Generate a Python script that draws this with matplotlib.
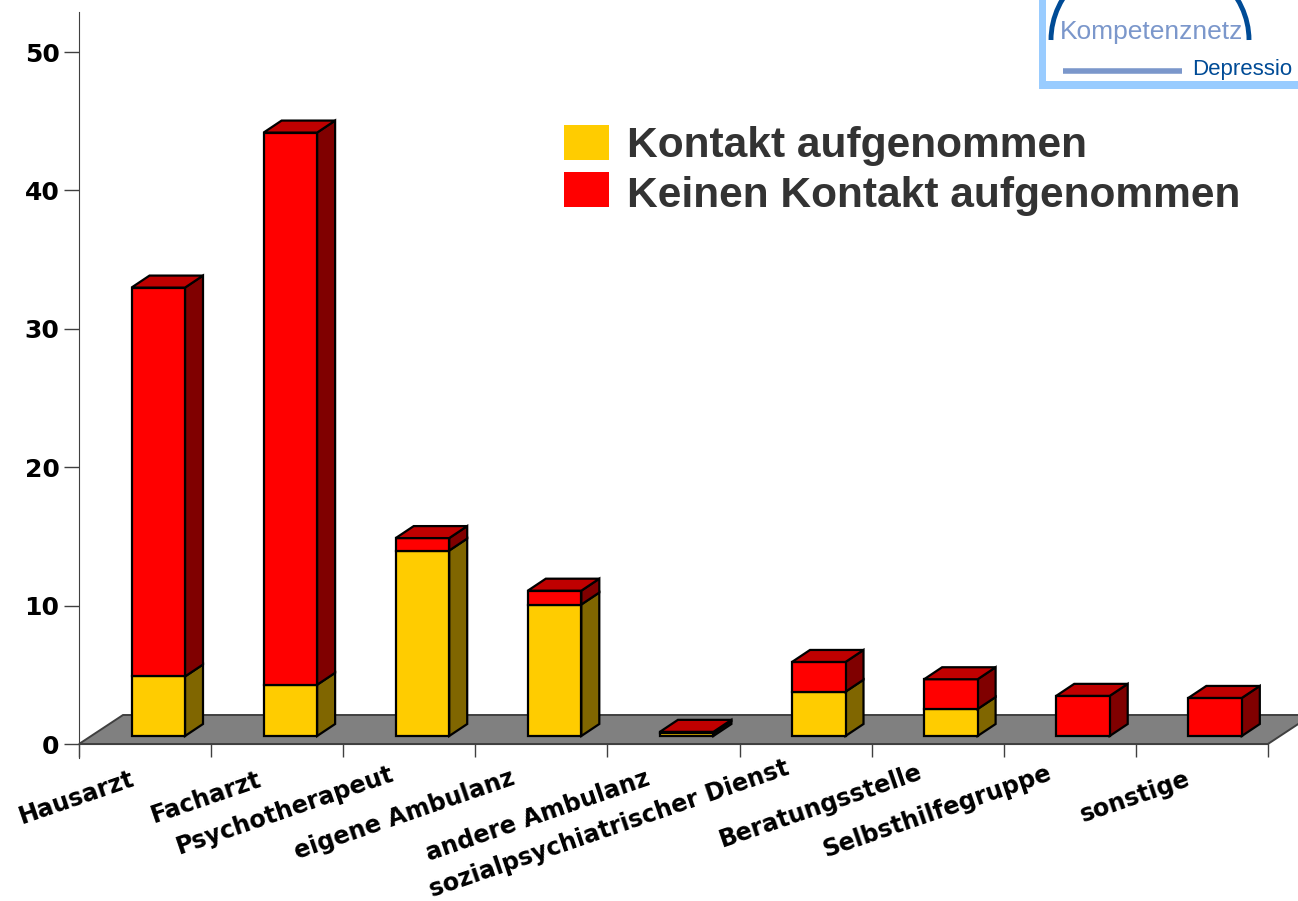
import matplotlib
matplotlib.use('Agg')
import matplotlib.pyplot as plt
from matplotlib.patches import Polygon, Patch, Rectangle, Arc

# Daten
kategorien = ['Hausarzt', 'Facharzt', 'Psychotherapeut', 'eigene Ambulanz', 'andere Ambulanz',
              'sozialpsychiatrischer Dienst', 'Beratungsstelle', 'Selbsthilfegruppe', 'sonstige']
kontakt = [4.3, 3.7, 13.4, 9.5, 0.2, 3.2, 1.95, 0.0, 0.0]
kein_kontakt = [28.1, 39.9, 0.9, 1.0, 0.1, 2.15, 2.15, 2.9, 2.75]
yticks = [0, 10, 20, 30, 40, 50]

# Position der Achsenbeschriftung (Mitte des Textes in Pixeln)
label_x = [76, 206, 285, 405, 538, 609, 821, 937, 1135]
label_y = [798, 798, 810, 815, 816, 829, 806, 812, 797]

W, H = 1298, 901
X0, XS = 79, 132.1   # Pixel pro Kategorie
Y0, YS = 744, 13.84  # Pixel pro Einheit


def px(x):
    return (x - X0) / XS


def py(y):
    return (Y0 - y) / YS


plt.rcParams['font.family'] = ['Liberation Sans', 'DejaVu Sans']
fig = plt.figure(figsize=(W / 100, H / 100), dpi=100)
ax = fig.add_axes([0, 0, 1, 1])
ax.set_xlim(px(0), px(W))
ax.set_ylim(py(H), py(0))

# Boden
tiefe_x, tiefe_y = 44 / XS, 29 / YS
ax.add_patch(Polygon([(0, 0), (9, 0), (9 + tiefe_x, tiefe_y), (tiefe_x, tiefe_y)],
                     facecolor='#808080', edgecolor='#404040', lw=1.4, zorder=1))

# Balken mit 3D-Effekt
dx, dy = 18 / XS, 12 / YS
basis = 8 / YS
breite = 0.405
rand = 1.6


def balken(x, unten, hoehe, farbe, seite, z):
    r = x + breite / 2
    o = unten + hoehe
    ax.add_patch(Polygon([(r, unten), (r + dx, unten + dy), (r + dx, o + dy), (r, o)],
                         facecolor=seite, edgecolor='black', lw=rand, zorder=z))
    ax.bar(x, hoehe, breite, bottom=unten, color=farbe, edgecolor='black', lw=rand, zorder=z + 0.1)


for i in range(len(kategorien)):
    x = i + 0.6
    z = 3 + i * 0.01
    if kontakt[i] > 0:
        balken(x, basis, kontakt[i], '#FFCC00', '#806600', z)
    balken(x, basis + kontakt[i], kein_kontakt[i], '#FF0000', '#800000', z + 0.2)
    o = basis + kontakt[i] + kein_kontakt[i]
    l, r = x - breite / 2, x + breite / 2
    ax.add_patch(Polygon([(l, o), (r, o), (r + dx, o + dy), (l + dx, o + dy)],
                         facecolor='#BF0000', edgecolor='black', lw=rand, zorder=z + 0.4))

# Achsen
for s in ['top', 'right']:
    ax.spines[s].set_visible(False)
ax.spines['left'].set_position(('data', 0))
ax.spines['bottom'].set_position(('data', 0))
ax.spines['left'].set_bounds(py(758), py(12))
ax.spines['bottom'].set_bounds(0, 9)
ax.spines['left'].set_color('#404040')
ax.spines['bottom'].set_color('#404040')
ax.spines['bottom'].set_zorder(2)
ax.set_yticks(yticks)
ax.set_xticks(range(10))
ax.set_xticklabels([])
ax.tick_params(axis='y', length=11, width=1, color='#404040', pad=3, labelsize=18)
ax.tick_params(axis='x', length=9.5, width=1, color='#404040')
for t in ax.get_yticklabels():
    t.set_fontweight('bold')
    t.set_family(['DejaVu Sans'])

for name, lx, ly in zip(kategorien, label_x, label_y):
    ax.text(px(lx), py(ly), name, rotation=19, ha='center', va='center', family=['DejaVu Sans'],
            fontsize=17.2, fontweight='bold', color='black', rotation_mode='anchor')

# Legende
griffe = [Patch(facecolor='#FFCC00', edgecolor='none', label='Kontakt aufgenommen'),
          Patch(facecolor='#FF0000', edgecolor='none', label='Keinen Kontakt aufgenommen')]
leg = ax.legend(handles=griffe, loc='upper left', bbox_to_anchor=(564 / W, 1 - 125 / H),
                frameon=False, handlelength=1.06, handleheight=0.9,
                handletextpad=0.42, labelspacing=0.2, borderpad=0, borderaxespad=0,
                prop={'size': 30.6, 'weight': 'bold'}, labelcolor='#333333')
griff2 = leg.legend_handles[1]
griff2.set_y(griff2.get_y() + 2.3)

# Logo oben rechts
hell = '#99CCFF'
dunkel = '#004B96'
mittel = '#7B97CB'
ax.add_patch(Rectangle((px(1039), py(89)), px(W + 10) - px(1039), py(81) - py(89),
                       facecolor=hell, edgecolor='none', zorder=5))
ax.add_patch(Rectangle((px(1039), py(89)), px(1046) - px(1039), py(-5) - py(89),
                       facecolor=hell, edgecolor='none', zorder=5))
ax.add_patch(Arc((px(1150), py(40)), 198 / XS, 174 / YS, theta1=0, theta2=180,
                 color=dunkel, lw=3.5, zorder=5))
ax.plot([px(1063), px(1182)], [py(71), py(71)], color=mittel, lw=4, solid_capstyle='butt', zorder=5)
ax.text(px(1060), py(39), 'Kompetenznetz', fontsize=19, color=mittel, va='baseline', ha='left', zorder=6)
ax.text(px(1192), py(75), 'Depressio', fontsize=16, color=dunkel, va='baseline', ha='left', zorder=6)

fig.savefig('out.png', dpi=100)
